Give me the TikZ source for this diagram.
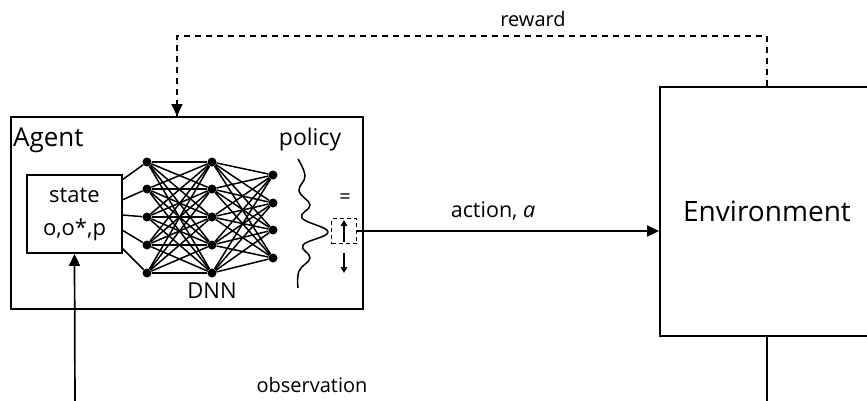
\documentclass[tikz,border=0pt]{standalone}
\usepackage{fontspec}
\setmainfont{Open Sans}
\usetikzlibrary{arrows.meta}
\begin{document}
\begin{tikzpicture}[x=1pt,y=-1pt,
  box/.style={draw, line width=1.8pt, inner sep=0pt},
  neuron/.style={circle, fill, inner sep=0pt, minimum size=9pt},
  edge/.style={line width=1.5pt},
  arr/.style={line width=1.7pt, -{Triangle[length=12pt,width=11pt]}},
  smallarr/.style={line width=1.5pt, -{Triangle[length=6pt,width=6.5pt]}},
  dashline/.style={line width=1.5pt, dash pattern=on 6pt off 5pt},
  lbl/.style={inner sep=0pt, font=\fontsize{20}{24}\selectfont}]
\clip (0,0) rectangle (867,400);
% boxes
\node[box, minimum width=352pt, minimum height=192pt] (agent) at (187,213) {};
\node[lbl, anchor=base west, font=\fontsize{26}{30}\selectfont] (agentlbl) at (13,146) {Agent};
\node[box, minimum width=95pt, minimum height=78pt, align=center,
      font=\fontsize{22}{33}\selectfont] (state) at (74.5,214) {state\\o,o*,p};
\node[box, minimum width=214pt, minimum height=249pt,
      font=\fontsize{28}{32}\selectfont] (env) at (767,211.5) {Environment};
% network
\foreach \i/\y in {1/162,2/189,3/217,4/245,5/273}{
  \node[neuron] (a\i) at (147,\y) {};
  \node[neuron] (b\i) at (212,\y) {};
}
\foreach \i/\y in {1/175,2/203,3/230,4/258}{
  \node[neuron] (c\i) at (273,\y) {};
}
\foreach \i/\y in {1/180,2/200,3/215,4/230,5/248}{
  \coordinate (s\i) at (122,\y);
  \draw[edge] (s\i) -- (a\i);
}
\foreach \i in {1,...,5}{
  \foreach \j in {1,...,5}{\draw[edge] (a\i) -- (b\j);}
  \foreach \j in {1,...,4}{\draw[edge] (b\i) -- (c\j);}
}
\node[lbl, font=\fontsize{22}{26}\selectfont] (dnn) at (212,291) {DNN};
% policy
\node[lbl, font=\fontsize{23}{26}\selectfont] (policy) at (310,140) {policy};
\draw[line width=1.5pt] plot[smooth, tension=0.7] coordinates {
  (298,159) (305,176) (299,191) (310,205) (302,218) (328,232)
  (303,245) (310,258) (299,271) (298,288)};
\node[lbl] (eq) at (345,199) {=};
\node[draw, line width=1.4pt, minimum width=25pt, minimum height=25pt,
      inner sep=0pt, dash pattern=on 4pt off 3pt] (pol) at (344,231) {};
\coordinate (upS) at (344,242);
\coordinate (upE) at (344,220);
\draw[smallarr] (upS) -- (upE);
\coordinate (dnS) at (344,253);
\coordinate (dnE) at (344,273);
\draw[smallarr] (dnS) -- (dnE);
% action
\coordinate (actE) at (pol.east -| env.west);
\draw[arr] (pol.east) -- (actE);
\node[lbl, font=\fontsize{21.5}{24}\selectfont] (act) at (493,211) {action, \textit{a}};
% reward
\coordinate (rtop) at (767,36);
\coordinate (rleft) at (177,36);
\draw[dashline] (env.north) -- (rtop) -- (rleft) -- (rleft |- agent.north);
\draw[arr, dashline] (177,100) -- (rleft |- agent.north);
\node[lbl] (rew) at (533,19) {reward};
% observation
\coordinate (obsB) at (75,410);
\coordinate (envB) at (767,410);
\draw[line width=1.7pt] (env.south) -- (envB);
\draw[arr] (obsB) -- (state.south);
\node[lbl] (obs) at (312,385) {observation};
\end{tikzpicture}
\end{document}
